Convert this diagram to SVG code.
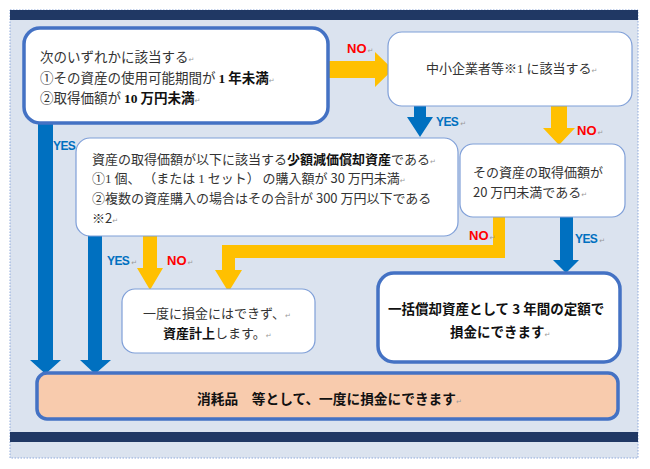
<svg xmlns="http://www.w3.org/2000/svg" width="650" height="469" viewBox="0 0 650 469">
<style>
.bg{fill:#dbe3ef;stroke:#8ea9db;stroke-width:1;stroke-dasharray:1.5 1.5}
.bar{fill:#203864}
.thick{fill:#ffffff;stroke:#4472c4;stroke-width:3.5}
.thin{fill:#ffffff;stroke:#7f9fd8;stroke-width:1.2}
.peach{fill:#f8cbad;stroke:#4472c4;stroke-width:3.5}
.org{fill:#ffc000}
.blu{fill:#0070c0}
.t{font-family:"Noto Sans CJK JP","Liberation Sans",sans-serif;font-size:13px;fill:#333333}
.b{font-weight:bold;fill:#111111}
.serif{font-family:"Liberation Serif",serif}
.lblY{font-family:"Liberation Sans",sans-serif;font-size:12px;font-weight:bold;fill:#0070c0;letter-spacing:-0.6px}
.lblN{font-family:"Liberation Sans",sans-serif;font-size:13px;font-weight:bold;fill:#ff0000}
.rm{font-family:"DejaVu Sans",sans-serif;font-size:7px;font-weight:normal;fill:#9a9a9a;letter-spacing:0}
</style>
<rect class="bg" x="10" y="10" width="628" height="448"/>
<rect class="bar" x="10" y="10" width="628" height="10"/>
<rect class="bar" x="10" y="432" width="628" height="10"/>

<g id="connectors">
  <polygon class="org" points="326,61 375,61 375,52 393,69.5 375,87 375,78 326,78"/>
  <polygon class="blu" points="414,105 426,105 426,117 433,117 420,137 407,117 414,117"/>
  <polygon class="org" points="551,105 567,105 567,128 575,128 559,145 543,128 551,128"/>
  <polygon class="blu" points="560,216 573,216 573,260 579,260 566,273 553,260 560,260"/>
  <polygon class="org" points="493,216 505,216 505,258 235,258 235,270 242,270 228.5,292 215,270 222,270 222,245 493,245"/>
  <polygon class="org" points="143,235 157,235 157,268 163,268 150,290 137,268 143,268"/>
  <polygon class="blu" points="38,121 53,121 53,360 61,360 45.5,374 30,360 38,360"/>
  <polygon class="blu" points="88,234 102,234 102,360 111,360 95,374 80,360 88,360"/>
  <text class="lblN" x="347" y="53">NO<tspan class="rm" dx="1">↵</tspan></text>
  <text class="lblY" x="436" y="126">YES<tspan class="rm" dx="2">↵</tspan></text>
  <text class="lblN" x="577" y="135">NO<tspan class="rm" dx="1">↵</tspan></text>
  <text class="lblY" x="53" y="150">YES</text>
  <text class="lblN" x="469" y="240">NO<tspan class="rm" dx="1">↵</tspan></text>
  <text class="lblY" x="575" y="243">YES<tspan class="rm" dx="2">↵</tspan></text>
  <text class="lblY" x="107" y="265">YES<tspan class="rm" dx="2">↵</tspan></text>
  <text class="lblN" x="167" y="265">NO<tspan class="rm" dx="1">↵</tspan></text>
</g>

<g id="node-start">
  <rect class="thick" x="24" y="28" width="304" height="95" rx="16"/>
  <text class="t" style="font-size:13.5px" x="40" y="62">次のいずれかに該当する<tspan class="rm">↵</tspan></text>
  <text class="t" style="font-size:13.5px" x="40" y="83">①その資産の使用可能期間が <tspan class="b serif">1</tspan> <tspan class="b">年未満</tspan><tspan class="rm">↵</tspan></text>
  <text class="t" style="font-size:13.5px" x="40" y="103">②取得価額が <tspan class="b serif">10</tspan> <tspan class="b">万円未満</tspan><tspan class="rm">↵</tspan></text>
</g>

<g id="node-sme">
  <rect class="thin" x="388" y="32" width="244" height="74" rx="14"/>
  <text class="t" x="426" y="73">中小企業者等※<tspan class="serif">1</tspan> に該当する<tspan class="rm">↵</tspan></text>
</g>

<g id="node-small">
  <rect class="thin" x="76" y="138" width="382" height="98" rx="14"/>
  <text class="t" x="92" y="164">資産の取得価額が以下に該当する<tspan class="b">少額減価償却資産</tspan>である<tspan class="rm">↵</tspan></text>
  <text class="t" x="92" y="183">①<tspan class="serif">1</tspan> 個、 （または <tspan class="serif">1</tspan> セット） の購入額が 30 万円未満<tspan class="rm">↵</tspan></text>
  <text class="t" x="92" y="203">②複数の資産購入の場合はその合計が 300 万円以下である</text>
  <text class="t" x="92" y="223">※2<tspan class="rm">↵</tspan></text>
</g>

<g id="node-under20">
  <rect class="thin" x="460" y="144" width="165" height="73" rx="13"/>
  <text class="t" x="473" y="177">その資産の取得価額が</text>
  <text class="t" x="473" y="197">20 万円未満である<tspan class="rm">↵</tspan></text>
</g>

<g id="node-asset">
  <rect class="thin" x="122" y="289" width="193" height="64" rx="13"/>
  <text class="t" x="143" y="318">一度に損金にはできず、<tspan class="rm">↵</tspan></text>
  <text class="t" x="163" y="338"><tspan class="b">資産計上</tspan>します。<tspan class="rm">↵</tspan></text>
</g>

<g id="node-lump">
  <rect class="thick" x="378" y="273" width="242" height="89" rx="16"/>
  <text class="t b" style="font-size:13.5px" x="388" y="314">一括償却資産として 3 年間の定額で</text>
  <text class="t b" style="font-size:13.5px" x="450" y="337">損金にできます<tspan class="rm">↵</tspan></text>
</g>

<g id="node-expense">
  <rect class="peach" x="37" y="373" width="581" height="46" rx="10"/>
  <text class="t b" style="font-size:13.7px" x="197" y="404">消耗品　等として、一度に損金にできます<tspan class="rm">↵</tspan></text>
</g>
</svg>
